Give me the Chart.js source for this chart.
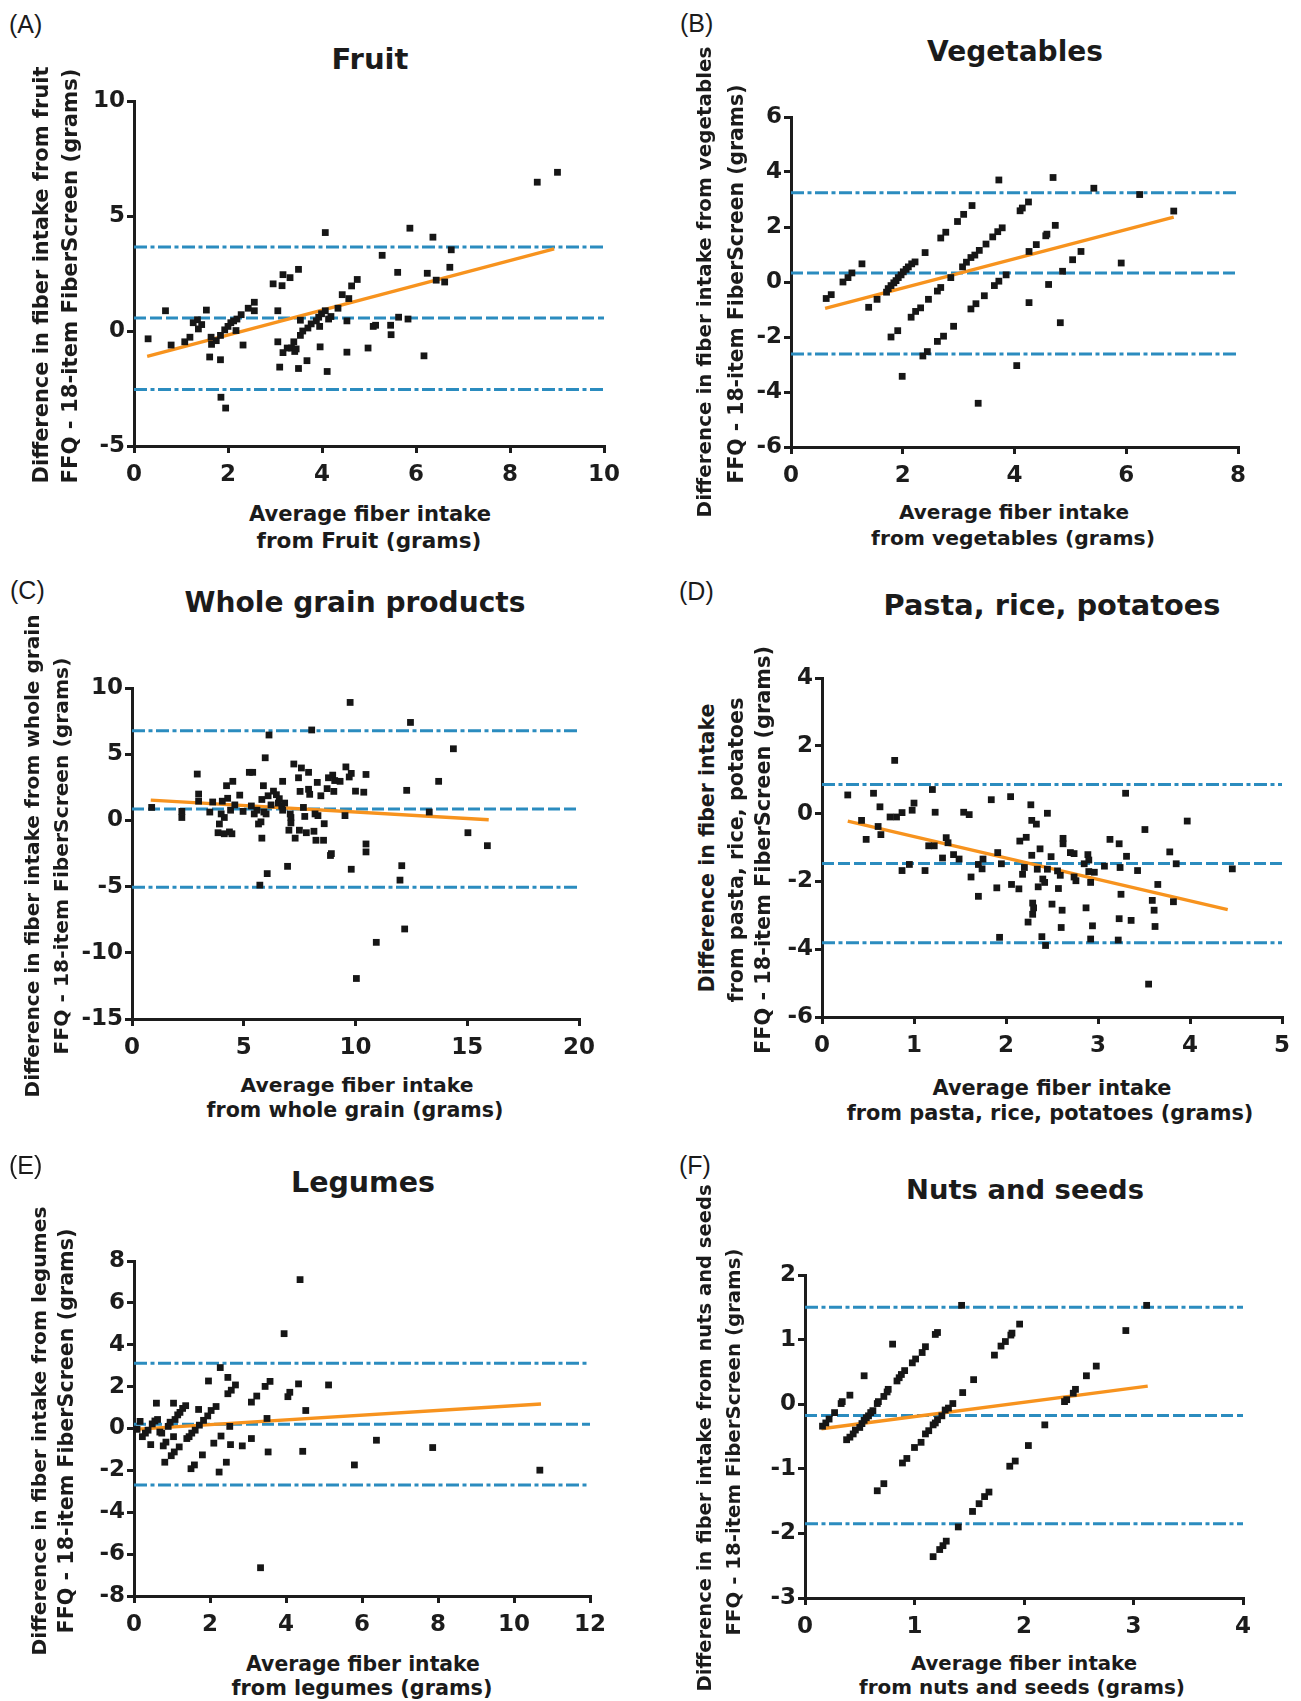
<!DOCTYPE html>
<html><head><meta charset="utf-8">
<script src="https://cdn.jsdelivr.net/npm/chart.js@4.4.1/dist/chart.umd.min.js"></script>
<style>
html,body{margin:0;padding:0;background:#fff;}
#page{position:relative;width:1301px;height:1701px;overflow:hidden;background:#fff;}
canvas{position:absolute;}
.t{position:absolute;white-space:nowrap;line-height:1;color:#1b1b1b;font-family:"DejaVu Sans",Verdana,sans-serif;font-weight:bold;}
.p{position:absolute;white-space:nowrap;line-height:1;color:#1b1b1b;font-family:"Liberation Sans",Arial,sans-serif;font-size:25px;transform:translateY(-50%);}
</style></head><body><div id="page"></div>
<script>
// ---------------- DATA ----------------
// (A) Fruit
const fruitX = [0.30,0.67,0.79,1.08,1.19,1.26,1.35,1.37,1.44,1.54,1.61,1.64,1.65,1.75,1.84,1.84,1.85,1.95,1.93,2.00,2.06,2.12,2.17,2.19,2.28,2.32,2.43,2.56,2.56,2.96,3.06,3.06,3.10,3.15,3.17,3.17,3.26,3.32,3.35,3.40,3.42,3.45,3.50,3.50,3.54,3.54,3.59,3.68,3.70,3.77,3.88,3.93,3.95,3.96,3.99,4.07,4.07,4.11,4.14,4.19,4.34,4.43,4.53,4.53,4.57,4.63,4.75,4.98,5.09,5.14,5.28,5.46,5.47,5.61,5.63,5.83,5.87,6.17,6.24,6.36,6.43,6.61,6.72,6.75,8.58,9.01];
const fruitY = [-0.34,0.88,-0.61,-0.47,-0.27,0.36,0.49,0.09,0.28,0.91,-1.13,-0.27,-0.58,-0.42,-1.25,-0.19,-2.88,-3.35,0.05,0.20,0.36,0.44,0.02,0.52,0.71,-0.61,0.99,1.25,0.88,2.05,0.88,-0.47,-1.57,1.97,2.45,-0.94,-0.74,2.32,-0.74,-0.47,-0.89,-0.78,2.68,-1.63,0.47,-0.19,0.00,-1.29,0.13,0.31,0.44,0.60,0.20,-0.69,0.75,4.28,0.88,-1.76,0.52,0.63,0.99,1.58,0.44,-0.92,1.41,1.96,2.24,-0.74,0.20,0.25,3.29,0.25,-0.16,2.55,0.60,0.52,4.47,-1.08,2.51,4.08,2.21,2.13,2.77,3.53,6.47,6.90];
const fruitMean = 0.56;
const fruitLoA = [3.65, -2.54];
const fruitFitX = [0.28, 8.94];
const fruitFitY = [-1.10, 3.57];
const fruitXTicks = [0,2,4,6,8,10];
const fruitYTicks = [-5,0,5,10];

// (B) Vegetables
const vegX = [0.63,0.72,0.93,1.02,1.09,1.27,1.39,1.54,1.71,1.74,1.79,1.84,1.88,1.92,1.97,2.01,2.06,2.10,2.16,2.22,1.79,1.91,1.99,2.15,2.23,2.32,2.36,2.44,2.40,2.46,2.62,2.68,2.62,2.73,2.68,2.77,2.86,2.91,2.98,3.09,3.07,3.14,3.22,3.24,3.22,3.29,3.31,3.37,3.35,3.46,3.49,3.61,3.64,3.70,3.72,3.72,3.78,3.85,4.04,4.10,4.14,4.25,4.26,4.26,4.39,4.56,4.58,4.61,4.69,4.73,4.82,4.86,5.04,5.19,5.42,5.91,6.24,6.85];
const vegY = [-0.60,-0.46,0.00,0.16,0.33,0.66,-0.92,-0.63,-0.37,-0.24,-0.13,-0.03,0.05,0.16,0.26,0.37,0.46,0.55,0.66,0.73,-2.00,-1.77,-3.43,-1.28,-1.07,-0.94,-2.69,-2.53,1.07,-0.63,-0.33,-0.20,-2.16,-1.97,1.60,1.81,0.16,-1.61,2.20,2.46,0.55,0.72,0.89,2.78,-0.98,0.98,-0.79,1.15,-4.41,-0.50,1.38,1.64,-0.13,1.83,0.03,3.71,1.97,0.26,-3.04,2.59,2.69,2.91,1.11,-0.75,1.36,1.68,1.74,-0.09,3.80,2.06,-1.48,0.39,0.81,1.11,3.41,0.69,3.18,2.58];
const vegMean = 0.33;
const vegLoA = [3.25, -2.62];
const vegFitX = [0.61, 6.85];
const vegFitY = [-0.96, 2.36];
const vegXTicks = [0,2,4,6,8];
const vegYTicks = [-6,-4,-2,0,2,4,6];

// (C) Whole grain products
const grainX = [0.88,2.23,2.23,2.92,2.98,2.98,3.48,3.61,3.85,3.91,3.99,4.04,4.13,4.13,4.23,4.28,4.36,4.41,4.47,4.51,4.60,4.82,4.97,5.25,5.40,5.34,5.47,5.59,5.66,5.72,5.77,5.81,5.81,5.88,5.90,5.96,6.00,6.05,6.09,6.13,6.22,6.33,6.46,6.55,6.59,6.70,6.74,6.74,6.83,6.96,7.02,7.08,7.11,7.11,7.24,7.30,7.45,7.49,7.52,7.58,7.67,7.73,7.80,7.90,7.90,7.95,8.04,8.14,8.19,8.23,8.29,8.32,8.45,8.57,8.60,8.73,8.79,8.88,8.92,8.98,9.03,9.07,9.31,9.53,9.57,9.72,9.76,9.81,9.81,10.00,10.04,10.37,10.47,10.47,10.47,10.93,11.99,12.07,12.20,12.29,12.46,13.30,13.72,14.38,15.03,15.90];
const grainY = [0.98,0.68,0.22,3.50,1.99,1.45,0.63,1.39,-0.93,-0.27,0.49,1.45,0.22,-1.01,2.62,1.67,-0.87,0.77,-1.01,2.95,1.17,1.91,0.68,3.63,3.63,1.09,0.49,0.77,-0.27,-4.89,-0.11,-1.34,1.58,2.62,0.63,4.73,0.49,-4.02,1.86,6.45,1.17,2.21,1.94,1.31,1.64,1.09,2.95,0.77,1.31,-3.47,-0.74,0.49,-0.19,0.22,4.26,-1.34,3.22,-0.74,2.19,3.96,0.98,0.30,-0.93,3.63,2.35,1.97,6.83,-0.82,0.49,-1.50,2.87,0.36,1.86,-1.50,-0.25,2.40,3.22,-2.65,-2.51,3.42,2.19,3.01,2.95,0.36,4.04,3.28,8.91,-3.69,3.55,2.21,-11.94,2.13,3.47,-1.78,-2.38,-9.21,-4.51,-3.42,-8.20,2.27,7.40,0.63,2.95,5.41,-0.93,-1.91];
const grainMean = 0.87;
const grainLoA = [6.78, -5.05];
const grainFitX = [0.84, 15.96];
const grainFitY = [1.53, 0.05];
const grainXTicks = [0,5,10,15,20];
const grainYTicks = [-15,-10,-5,0,5,10];

// (D) Pasta, rice, potatoes
const pastaX = [0.28,0.43,0.48,0.56,0.61,0.63,0.64,0.74,0.79,0.81,0.87,0.87,0.95,0.98,1.00,1.12,1.16,1.20,1.22,1.23,1.31,1.35,1.37,1.43,1.49,1.54,1.60,1.62,1.70,1.70,1.74,1.75,1.84,1.91,1.90,1.93,1.95,2.05,2.06,2.14,2.15,2.18,2.20,2.22,2.24,2.27,2.28,2.28,2.29,2.29,2.30,2.33,2.34,2.35,2.37,2.39,2.40,2.42,2.43,2.45,2.45,2.49,2.50,2.56,2.57,2.59,2.60,2.61,2.62,2.62,2.70,2.74,2.74,2.76,2.85,2.87,2.89,2.90,2.90,2.92,2.92,2.94,2.96,3.07,3.13,3.22,3.23,3.23,3.24,3.25,3.30,3.31,3.36,3.43,3.51,3.55,3.59,3.61,3.62,3.65,3.78,3.82,3.85,3.97,4.46];
const pastaY = [0.55,-0.20,-0.76,0.60,-0.38,0.20,-0.62,-0.10,1.57,-0.10,0.03,-1.68,-1.50,0.10,0.31,-1.68,-0.95,0.71,-0.95,0.04,-1.31,-0.71,-0.86,-1.21,-1.34,0.04,-0.03,-1.87,-2.44,-1.50,-1.63,-1.34,0.41,-1.15,-2.19,-3.65,-1.48,0.50,-2.09,-2.22,-0.81,-1.79,-1.59,-0.70,-3.20,0.26,-1.23,-0.20,-2.64,-2.97,-2.78,-0.31,-1.64,-2.16,-1.04,-3.63,-1.93,-2.03,-3.89,0.01,-1.64,-1.27,-2.67,-1.69,-2.21,-1.82,-3.36,-2.85,-0.73,-0.89,-1.15,-1.18,-1.87,-1.98,-1.48,-2.78,-1.21,-1.37,-1.71,-2.03,-3.70,-3.31,-1.73,-1.55,-0.76,-3.73,-3.10,-0.89,-1.59,-2.38,0.60,-1.26,-3.15,-1.68,-0.47,-5.03,-2.56,-2.85,-3.33,-2.09,-1.13,-2.60,-1.48,-0.22,-1.63];
const pastaMean = -1.47;
const pastaLoA = [0.86, -3.81];
const pastaFitX = [0.28, 4.41];
const pastaFitY = [-0.22, -2.83];
const pastaXTicks = [0,1,2,3,4,5];
const pastaYTicks = [-6,-4,-2,0,2,4];

// (E) Legumes
const legX = [0.08,0.16,0.22,0.30,0.37,0.44,0.48,0.55,0.59,0.62,0.68,0.73,0.77,0.81,0.84,0.90,0.95,0.98,1.04,1.04,1.06,1.08,1.15,1.19,1.21,1.28,1.36,1.39,1.45,1.50,1.52,1.59,1.61,1.70,1.72,1.80,1.83,1.94,1.96,2.03,2.10,2.16,2.24,2.27,2.29,2.43,2.47,2.47,2.52,2.54,2.56,2.67,2.85,3.09,3.09,3.23,3.33,3.45,3.50,3.53,3.58,3.95,4.05,4.10,4.33,4.37,4.44,4.52,5.12,5.80,6.38,7.86,10.68];
const legY = [-0.04,0.34,-0.39,-0.22,-0.08,-0.77,0.22,0.36,1.21,0.43,-0.17,-0.22,-0.83,-1.61,-0.65,0.10,0.30,-1.30,1.21,-0.39,-1.12,0.43,0.65,-0.88,0.77,0.96,1.09,-0.48,-0.39,-1.92,-0.22,-1.74,-0.08,0.91,0.16,-1.26,0.39,0.60,2.27,0.86,-0.70,1.05,-2.08,2.91,-0.36,-1.61,2.44,1.66,0.10,-0.77,1.83,2.08,-0.83,1.26,-0.48,1.55,-6.65,2.01,0.48,-1.12,2.25,4.53,1.52,1.73,2.13,7.11,-1.09,0.86,2.08,-1.74,-0.56,-0.91,-1.99];
const legMean = 0.20;
const legLoA = [3.12, -2.70];
const legFitX = [0.0, 10.71];
const legFitY = [-0.04, 1.17];
const legXTicks = [0,2,4,6,8,10,12];
const legYTicks = [-8,-6,-4,-2,0,2,4,6,8];

// (F) Nuts and seeds
const nutX = [0.16,0.19,0.22,0.27,0.33,0.34,0.41,0.38,0.41,0.44,0.46,0.50,0.52,0.54,0.56,0.58,0.60,0.62,0.66,0.67,0.72,0.75,0.76,0.84,0.86,0.88,0.91,0.98,1.01,1.07,1.10,1.19,1.21,0.54,0.80,0.66,0.72,0.89,0.93,1.00,1.06,1.10,1.13,1.17,1.19,1.21,1.25,1.28,1.31,1.35,1.44,1.54,1.73,1.79,1.83,1.88,1.89,1.96,1.43,1.17,1.23,1.26,1.29,1.40,1.53,1.59,1.64,1.68,1.87,1.92,2.04,2.19,2.37,2.39,2.45,2.47,2.57,2.66,2.93,3.12];
const nutY = [-0.34,-0.29,-0.23,-0.13,0.01,0.04,0.14,-0.55,-0.51,-0.46,-0.40,-0.36,-0.30,-0.25,-0.21,-0.18,-0.13,-0.10,0.01,0.04,0.12,0.19,0.23,0.36,0.41,0.46,0.52,0.64,0.70,0.80,0.89,1.08,1.11,0.44,0.93,-1.34,-1.23,-0.91,-0.84,-0.67,-0.59,-0.46,-0.41,-0.32,-0.29,-0.24,-0.18,-0.09,-0.06,0.01,0.18,0.38,0.76,0.90,0.97,1.07,1.10,1.24,1.53,-2.36,-2.25,-2.19,-2.12,-1.90,-1.66,-1.54,-1.43,-1.36,-0.96,-0.88,-0.64,-0.32,0.04,0.07,0.17,0.23,0.44,0.59,1.14,1.53];
const nutMean = -0.175;
const nutLoA = [1.50, -1.85];
const nutFitX = [0.15, 3.13];
const nutFitY = [-0.38, 0.28];
const nutXTicks = [0,1,2,3,4];
const nutYTicks = [-3,-2,-1,0,1,2];

// ---------------- TEXT ----------------
const ylab = 'FFQ - 18-item FiberScreen (grams)';
const xlab = 'Average fiber intake';

// ---------------- LAYOUT / STYLE ----------------
const BLUE = '#2b8cbf', ORANGE = '#f7931e', AX = '#1c1c1c', PT = '#161616';
const page = document.getElementById('page');

const panels = [
  {x:fruitX, y:fruitY, mean:fruitMean, loa:fruitLoA, fx:fruitFitX, fy:fruitFitY, xt:fruitXTicks, yt:fruitYTicks,
   area:[134,604,101,446],
   label:['(A)',9,24], title:['Fruit',370,60,77],
   xT:[[xlab,370,514,242],['from Fruit (grams)',369,541,225]],
   yT:[['Difference in fiber intake from fruit',41,275,417],[ylab,70,276,415]]},
  {x:vegX, y:vegY, mean:vegMean, loa:vegLoA, fx:vegFitX, fy:vegFitY, xt:vegXTicks, yt:vegYTicks,
   area:[791,1238,117,447],
   label:['(B)',680,23], title:['Vegetables',1015,52,176],
   xT:[[xlab,1014,512,230],['from vegetables (grams)',1013,538,284]],
   yT:[['Difference in fiber intake from vegetables',705,282,471],[ylab,736,284,399]]},
  {x:grainX, y:grainY, mean:grainMean, loa:grainLoA, fx:grainFitX, fy:grainFitY, xt:grainXTicks, yt:grainYTicks,
   area:[132,579,688,1019],
   label:['(C)',10,590], title:['Whole grain products',355,603,341],
   xT:[[xlab,357,1085,233],['from whole grain (grams)',355,1110,297]],
   yT:[['Difference in fiber intake from whole grain',32,856,483],[ylab,61,856,397]]},
  {x:pastaX, y:pastaY, mean:pastaMean, loa:pastaLoA, fx:pastaFitX, fy:pastaFitY, xt:pastaXTicks, yt:pastaYTicks,
   area:[822,1282,678,1017],
   label:['(D)',679,591], title:['Pasta, rice, potatoes',1052,605,337],
   xT:[[xlab,1052,1088,239],['from pasta, rice, potatoes (grams)',1050,1113,407]],
   yT:[['Difference in fiber intake',707,848,289],['from pasta, rice, potatoes',736,850,305],[ylab,763,850,408]]},
  {x:legX, y:legY, mean:legMean, loa:legLoA, fx:legFitX, fy:legFitY, xt:legXTicks, yt:legYTicks,
   area:[134,590,1261,1596],
   label:['(E)',9,1165], title:['Legumes',363,1183,144],
   xT:[[xlab,363,1664,234],['from legumes (grams)',362,1688,261]],
   yT:[['Difference in fiber intake from legumes',39,1431,449],[ylab,66,1431,405]]},
  {x:nutX, y:nutY, mean:nutMean, loa:nutLoA, fx:nutFitX, fy:nutFitY, xt:nutXTicks, yt:nutYTicks,
   area:[805,1243,1275,1598],
   label:['(F)',679,1165], title:['Nuts and seeds',1025,1190,238],
   xT:[[xlab,1024,1664,226],['from nuts and seeds (grams)',1022,1688,326]],
   yT:[['Difference in fiber intake from nuts and seeds',705,1438,507],[ylab,734,1442,387]]}
];

const mctx = document.createElement('canvas').getContext('2d');
const FAM = '"DejaVu Sans", Verdana, sans-serif';
function addText(str, cx, cy, targetW, rot){
  mctx.font = 'bold 100px ' + FAM;
  const w = mctx.measureText(str).width;
  const size = 100 * targetW / w;
  const d = document.createElement('div');
  d.className = 't';
  d.textContent = str;
  d.style.fontSize = size.toFixed(2) + 'px';
  d.style.left = cx + 'px';
  d.style.top = cy + 'px';
  d.style.transform = 'translate(-50%,-50%)' + (rot ? ' rotate(-90deg)' : '');
  page.appendChild(d);
}
function addLabel(str, left, cy){
  const d = document.createElement('div');
  d.className = 'p';
  d.textContent = str;
  d.style.left = left + 'px';
  d.style.top = cy + 'px';
  page.appendChild(d);
}

const ML = 92, MT = 22, MR = 34, MB = 48;
const DASH_MEAN = [12,4];
const DASH_LOA = [13,3.5,4,3.5];
function makeChart(p){
  const [L,R,T,B] = p.area;
  const w = R - L + ML + MR, h = B - T + MT + MB;
  const cv = document.createElement('canvas');
  cv.width = w; cv.height = h;
  cv.style.left = (L - ML) + 'px'; cv.style.top = (T - MT) + 'px';
  cv.style.width = w + 'px'; cv.style.height = h + 'px';
  page.appendChild(cv);
  const xmin = p.xt[0], xmax = p.xt[p.xt.length - 1];
  const ymin = p.yt[0], ymax = p.yt[p.yt.length - 1];
  const hline = (v, dash) => ({
    type:'scatter', showLine:true, data:[{x:xmin,y:v},{x:xmax,y:v}],
    borderColor:BLUE, borderWidth:3, borderDash:dash, pointRadius:0, order:3, clip:false
  });
  const tickFont = {family:'DejaVu Sans', weight:'bold', size:23};
  new Chart(cv, {
    type:'scatter',
    data:{datasets:[
      {data:p.x.map((v,i)=>({x:v,y:p.y[i]})), pointStyle:'rect', pointRadius:4.8, pointHoverRadius:4.8,
       backgroundColor:PT, borderWidth:0, order:0},
      {data:p.fx.map((v,i)=>({x:v,y:p.fy[i]})), showLine:true, borderColor:ORANGE, borderWidth:3.3,
       pointRadius:0, order:1},
      hline(p.mean, DASH_MEAN),
      hline(p.loa[0], DASH_LOA),
      hline(p.loa[1], DASH_LOA)
    ]},
    options:{
      responsive:false, animation:false, devicePixelRatio:1,
      layout:{padding:{left:0, top:MT, right:MR, bottom:0}},
      plugins:{legend:{display:false}, tooltip:{enabled:false}, title:{display:false}},
      events:[],
      scales:{
        x:{type:'linear', min:xmin, max:xmax,
           afterBuildTicks:s=>{ s.ticks = p.xt.map(v=>({value:v})); },
           afterFit:s=>{ s.height = MB; },
           grid:{display:true, drawOnChartArea:false, drawTicks:true, tickLength:7, lineWidth:3, color:AX},
           border:{display:true, width:3, color:AX},
           ticks:{color:AX, font:tickFont, padding:8, maxRotation:0, autoSkip:false}},
        y:{type:'linear', min:ymin, max:ymax,
           afterBuildTicks:s=>{ s.ticks = p.yt.map(v=>({value:v})); },
           afterFit:s=>{ s.width = ML; },
           grid:{display:true, drawOnChartArea:false, drawTicks:true, tickLength:7, lineWidth:3, color:AX},
           border:{display:true, width:3, color:AX},
           ticks:{color:AX, font:tickFont, padding:2, autoSkip:false}}
      }
    }
  });
  addLabel(p.label[0], p.label[1], p.label[2]);
  addText(p.title[0], p.title[1], p.title[2], p.title[3], false);
  p.xT.forEach(t => addText(t[0], t[1], t[2], t[3], false));
  p.yT.forEach(t => addText(t[0], t[1], t[2], t[3], true));
}
panels.forEach(makeChart);
</script>
</body></html>
